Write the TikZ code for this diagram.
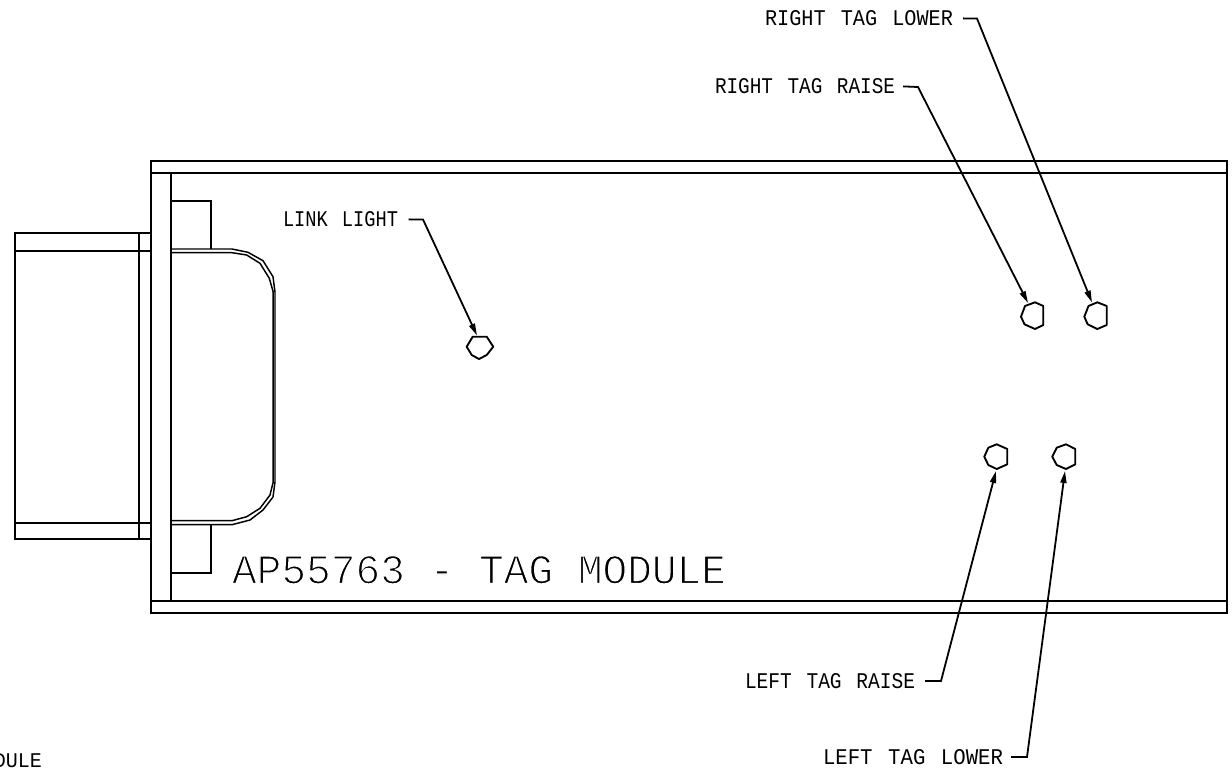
\documentclass[tikz,border=0pt]{standalone}
\usepackage{fontspec}
\usepackage{graphicx}
\setmainfont{Liberation Mono}
\usetikzlibrary{arrows.meta}
\tikzset{
  x=0.75pt,y=-0.75pt,
  cad/.style={draw=black,line width=1.35pt,line join=miter},
  thin cad/.style={draw=black,line width=1.1pt,line join=round},
  lamp/.style={draw=black,line width=1.4pt,line join=round},
  lead/.style={draw=black,line width=1.35pt,-{Triangle[length=9pt,width=4.5pt]}},
  lbl/.style={inner sep=0pt,outer sep=0pt,anchor=south west}
}
\newdimen\cadunit
\cadunit=0.75pt
\newcommand{\cadtext}[3]{\resizebox{#1\cadunit}{#2\cadunit}{\spaceskip=7.5pt\relax #3}}
\newcommand{\cadtitle}[3]{\resizebox{#1\cadunit}{#2\cadunit}{\special{pdf:code 2 Tr 0.3 w 1 1 1 RG}#3\special{pdf:code 0 Tr 0 0 0 RG}}}
\begin{document}
\begin{tikzpicture}
\useasboundingbox (0,0) rectangle (1232,768);
\fill[white] (0,0) rectangle (1232,768);
% housing
\draw[cad] (151,161) rectangle (1227,613);
\draw[cad] (151,173) -- (1227,173);
\draw[cad] (151,601) -- (1227,601);
\draw[cad] (171,173) -- (171,601);
% connector block
\draw[cad] (151,233) -- (15,233) -- (15,539) -- (151,539);
\draw[cad] (15,251) -- (151,251);
\draw[cad] (15,523) -- (151,523);
\draw[cad] (139,233) -- (139,539);
% tabs
\draw[cad] (171,201) -- (211,201) -- (211,249);
\draw[cad] (171,573) -- (211,573) -- (211,525);
% handle
\draw[thin cad] (171,249) -- (232,249) -- (248,252.3) -- (263,260.7) -- (273,276.7) -- (275,292) -- (275,482) -- (273,497) -- (263,510) -- (250,520) -- (232,524.7) -- (171,524.7);
\draw[thin cad] (171,252.7) -- (232,252.7) -- (246.7,255) -- (260,263.3) -- (269.3,278.3) -- (273.2,292) -- (273.2,482) -- (270,495) -- (260,508.3) -- (246.7,516.7) -- (232,520.7) -- (171,520.7);
% lamps
\draw[lamp] (472.7,336.7) -- (486.7,336.7) -- (493.3,346.7) -- (486.7,355) -- (479,359) -- (471.7,355) -- (466.7,346.7) -- cycle;
\draw[lamp] (1025,306) -- (1035,302.3) -- (1043.3,306) -- (1043.3,325) -- (1035,329) -- (1024.5,324.3) -- (1021,316.7) -- cycle;
\draw[lamp] (1088.5,306) -- (1097.3,302.3) -- (1106.7,306) -- (1106.7,325) -- (1097.3,329) -- (1087.7,324.3) -- (1084.3,316.7) -- cycle;
\draw[lamp] (996.7,444.3) -- (1007.3,449) -- (1007.3,464.3) -- (996.7,469) -- (988.3,465) -- (984.3,456.7) -- (988.3,447.7) -- cycle;
\draw[lamp] (1066,444.3) -- (1075.3,449) -- (1075.3,464.3) -- (1066,469) -- (1056.7,465) -- (1052.3,456.7) -- (1056.7,447.7) -- cycle;
% title and labels
\node[lbl] (title) at (232,584) {\cadtitle{494}{28}{AP55763 - TAG MODULE}};
\node[lbl] (rtl) at (765,26) {\cadtext{188}{15}{RIGHT TAG LOWER}};
\node[lbl] (rtr) at (715,94) {\cadtext{180}{15}{RIGHT TAG RAISE}};
\node[lbl] (ll) at (283,227) {\cadtext{115}{15}{LINK LIGHT}};
\node[lbl] (ltr) at (745,688.5) {\cadtext{170}{15}{LEFT TAG RAISE}};
\node[lbl] (ltl) at (823,764.5) {\cadtext{180}{15}{LEFT TAG LOWER}};
\node[lbl] (mod) at (-18,768) {\cadtext{60}{14}{ODULE}};
% leader points
\coordinate (rtlk) at (977,18.5); \coordinate (rtlt) at (1092,302.5);
\coordinate (rtrk) at (918,87);   \coordinate (rtrt) at (1028,303);
\coordinate (llk) at (423,219.5); \coordinate (llt) at (477,335.5);
\coordinate (ltrk) at (941,681);  \coordinate (ltrt) at (996,471);
\coordinate (ltlk) at (1027,757); \coordinate (ltlt) at (1065,471);
\draw[lead] ([xshift=7.5pt]rtl.east) -- (rtlk) -- (rtlt);
\draw[lead] ([xshift=6pt]rtr.east) -- (rtrk) -- (rtrt);
\draw[lead] ([xshift=8pt]ll.east) -- (llk) -- (llt);
\draw[lead] ([xshift=7.5pt]ltr.east) -- (ltrk) -- (ltrt);
\draw[lead] ([xshift=6pt]ltl.east) -- (ltlk) -- (ltlt);
\end{tikzpicture}
\end{document}
